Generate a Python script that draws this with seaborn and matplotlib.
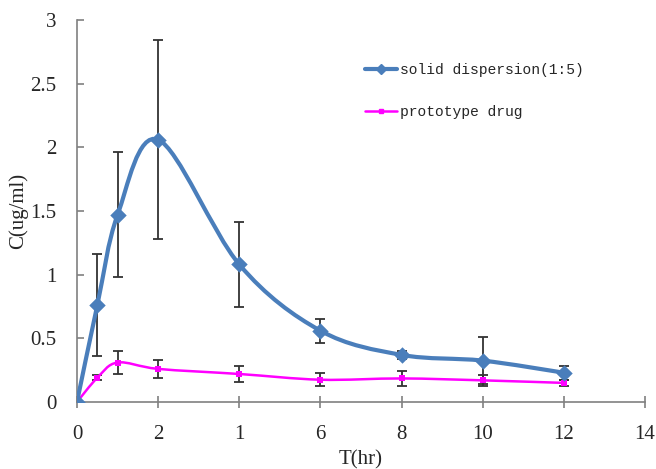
import numpy as np
import matplotlib
matplotlib.use("Agg")
import matplotlib.pyplot as plt
from matplotlib.path import Path
from matplotlib.patches import PathPatch
from matplotlib.lines import Line2D
import seaborn as sns

# ============================================================
# DATA
# ============================================================

time_hr = [0, 0.5, 1, 2, 4, 6, 8, 10, 12]

sd_mean = [0.0, 0.76, 1.47, 2.06, 1.08, 0.56, 0.37, 0.325, 0.23]
sd_err = [0.0, 0.40, 0.49, 0.78, 0.33, 0.095, 0.03, 0.185, 0.055]

proto_mean = [0.0, 0.19, 0.31, 0.26, 0.22, 0.175, 0.185, 0.17, 0.15]
proto_err = [0.0, 0.02, 0.09, 0.07, 0.06, 0.05, 0.06, 0.045, 0.025]

x_ticks = [0, 2, 4, 6, 8, 10, 12, 14]
x_tick_labels = ["0", "2", "1", "6", "8", "10", "12", "14"]
y_ticks = [0, 0.5, 1, 1.5, 2, 2.5, 3]
y_tick_labels = ["0", "0.5", "1", "1.5", "2", "2.5", "3"]

BLUE = "#4A7EBB"
PINK = "#FF00FF"
ERR = "#333333"


def smooth_path(x, y):
    # Excel style "smoothed line": cubic bezier through every point
    pts = np.column_stack([x, y]).astype(float)
    n = len(pts)
    verts = [pts[0]]
    codes = [Path.MOVETO]
    for i in range(n - 1):
        p0 = pts[i - 1] if i > 0 else pts[i]
        p1 = pts[i]
        p2 = pts[i + 1]
        p3 = pts[i + 2] if i + 2 < n else pts[i + 1]
        verts += [p1 + (p2 - p0) / 6, p2 - (p3 - p1) / 6, p2]
        codes += [Path.CURVE4] * 3
    return Path(verts, codes)


sns.set_theme(style="white")
plt.rcParams["font.family"] = ["Liberation Serif", "DejaVu Serif"]

fig = plt.figure(figsize=(6.56, 4.69), dpi=100)
ax = fig.add_axes([77 / 656, 67 / 469, 568 / 656, 382 / 469])

# error bars
ax.errorbar(time_hr, sd_mean, yerr=sd_err, fmt="none", ecolor=ERR,
            elinewidth=1.3, capsize=3.5, capthick=1.3, zorder=2)
ax.errorbar(time_hr, proto_mean, yerr=proto_err, fmt="none", ecolor=ERR,
            elinewidth=1.3, capsize=3.5, capthick=1.3, zorder=2)

# smoothed lines
ax.add_patch(PathPatch(smooth_path(time_hr, proto_mean), fill=False,
                       edgecolor=PINK, lw=1.8, zorder=3))
ax.add_patch(PathPatch(smooth_path(time_hr, sd_mean), fill=False,
                       edgecolor=BLUE, lw=3.0, capstyle="round", zorder=4))

# markers
sns.scatterplot(x=time_hr, y=proto_mean, marker="s", s=18, color=PINK,
                edgecolor=PINK, linewidth=0, ax=ax, zorder=5)
sns.scatterplot(x=time_hr, y=sd_mean, marker="D", s=70, color=BLUE,
                edgecolor=BLUE, linewidth=0, ax=ax, zorder=6)

ax.set_xlim(0, 14)
ax.set_ylim(0, 3)
ax.set_xticks(x_ticks)
ax.set_xticklabels(x_tick_labels)
ax.set_yticks(y_ticks)
ax.set_yticklabels(y_tick_labels)

for side in ["top", "right"]:
    ax.spines[side].set_visible(False)
for side in ["left", "bottom"]:
    ax.spines[side].set_color("#808080")
    ax.spines[side].set_linewidth(1.2)

ax.tick_params(axis="y", direction="in", length=5, width=1.2, color="#808080",
               labelsize=15, pad=15, left=True)
ax.tick_params(axis="x", direction="inout", length=9, width=1.2, color="#808080",
               labelsize=15, pad=12, bottom=True)

ax.set_xlabel("T(hr)", fontsize=15, labelpad=0)
ax.set_ylabel("C(ug/ml)", fontsize=15, labelpad=0)
ax.xaxis.set_label_coords(0.5, -0.125)
ax.yaxis.set_label_coords(-0.086, 0.5)

handles = [
    Line2D([], [], color=BLUE, lw=3, marker="D", markersize=5),
    Line2D([], [], color=PINK, lw=1.8, marker="s", markersize=2.5),
]
ax.legend(handles, ["solid dispersion(1:5)", "prototype drug"],
          loc="upper left", bbox_to_anchor=(365 / 656, 1 - 63 / 469),
          bbox_transform=fig.transFigure, frameon=False, borderpad=0,
          borderaxespad=0, handlelength=2.2, handletextpad=0.2,
          labelspacing=1.95, prop={"family": ["Liberation Mono"], "size": 10.5})

fig.savefig("out.png", dpi=100)
